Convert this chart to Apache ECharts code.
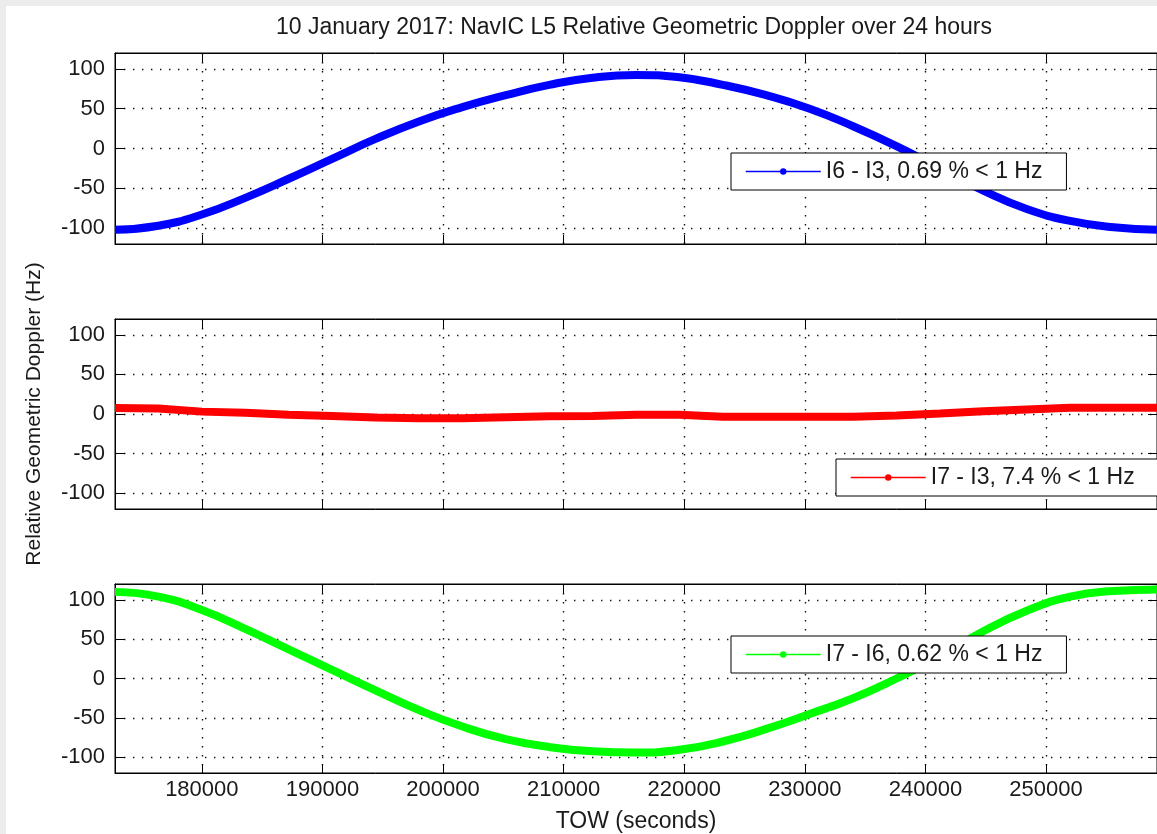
<!DOCTYPE html>
<html>
<head>
<meta charset="utf-8">
<title>NavIC L5 Relative Geometric Doppler</title>
<script src="https://cdn.jsdelivr.net/npm/echarts@6/dist/echarts.min.js"></script>
<style>
html, body { margin: 0; padding: 0; background: #ececec; overflow: hidden; }
#chart { position: absolute; left: 6px; top: 6px; width: 1151px; height: 828px; background: #fff; }
</style>
</head>
<body>
<div id="chart"></div>
<script>
// TOW (seconds), one sample per hour over the 24 h
const TOW = [172800, 176400, 180000, 183600, 187200, 190800, 194400, 198000, 201600, 205200,
  208800, 212400, 216000, 219600, 223200, 226800, 230400, 234000, 237600, 241200,
  244800, 248400, 252000, 255600, 259200]

// relative geometric doppler (Hz)
const I6_I3 = [-102, -97, -83, -62, -38, -13, 12, 34, 52, 67,
  80, 89, 92.5, 89.5, 80, 67, 50, 28, 3, -25,
  -53, -76, -91, -99, -102]
const I7_I3 = [7.5, 7, 3, 1.5, -1, -2.5, -4.5, -5.5, -5.5, -4,
  -2.7, -2.5, -1, -0.8, -3.5, -3.6, -3.6, -3.5, -2, 0.5,
  3.5, 5.7, 7.8, 7.8, 7.8]
const I7_I6 = [110, 104, 87, 63, 37, 11, -15, -40, -61, -77,
  -87, -92.5, -94, -90.5, -80, -64, -45, -25, 0, 28,
  60, 86, 104, 111, 113]

const X_TICKS = [180000, 190000, 200000, 210000, 220000, 230000, 240000, 250000]
const Y_TICKS = [-100, -50, 0, 50, 100]
const NAMES = ['I6 - I3, 0.69 % < 1 Hz', 'I7 - I3, 7.4 % < 1 Hz', 'I7 - I6, 0.62 % < 1 Hz']
const COLORS = ['#0000ff', '#ff0000', '#00ff00']
const SERIES_DATA = [I6_I3, I7_I3, I7_I6]

const FONT = 'Liberation Sans'
const TXT = '#1a1a1a'

const gridBoxes = [
  { top: 47, height: 191 },
  { top: 313, height: 190 },
  { top: 578, height: 192 }
]
const legendPos = [
  { left: 725, top: 147 },
  { left: 830, top: 453 },
  { left: 725, top: 630 }
]

const dotted = { color: '#111', width: 1.4, type: [1.4, 7.6] }

let xAxes = []
let yAxes = []
gridBoxes.forEach((g, i) => {
  ['bottom', 'top'].forEach(pos => {
    xAxes.push({
      type: 'value',
      gridIndex: i,
      position: pos,
      min: 172800,
      max: 259200,
      name: (i === 2 && pos === 'bottom') ? 'TOW (seconds)' : '',
      nameLocation: 'middle',
      nameGap: 37,
      nameTextStyle: { fontFamily: FONT, fontSize: 23, color: TXT },
      axisLine: { show: true, onZero: false, lineStyle: { color: '#000', width: 1 } },
      axisTick: { show: true, inside: true, length: 9, customValues: X_TICKS, lineStyle: { color: '#000' } },
      axisLabel: {
        show: i === 2 && pos === 'bottom',
        customValues: X_TICKS,
        formatter: v => String(v),
        margin: 6,
        fontFamily: FONT, fontSize: 22, color: TXT
      },
      splitLine: { show: pos === 'bottom', lineStyle: dotted }
    })
  })
  ;['left', 'right'].forEach(pos => {
    yAxes.push({
      type: 'value',
      gridIndex: i,
      position: pos,
      min: -120,
      max: 120,
      name: (i === 1 && pos === 'left') ? 'Relative Geometric Doppler (Hz)' : '',
      nameLocation: 'middle',
      nameGap: 70,
      nameTextStyle: { fontFamily: FONT, fontSize: 21, color: TXT },
      axisLine: { show: true, onZero: false, lineStyle: { color: '#000', width: 1 } },
      axisTick: { show: true, inside: true, length: 9, customValues: Y_TICKS, lineStyle: { color: '#000' } },
      axisLabel: { show: pos === 'left', customValues: Y_TICKS, margin: 10, fontFamily: FONT, fontSize: 22, color: TXT },
      splitLine: { show: pos === 'left', lineStyle: dotted }
    })
  })
})

const chart = echarts.init(document.getElementById('chart'))
chart.setOption({
  animation: false,
  backgroundColor: '#fff',
  graphic: [{
    type: 'text',
    x: 628,
    y: 10,
    style: {
      text: '10 January 2017: NavIC L5 Relative Geometric Doppler over 24 hours',
      fontFamily: FONT, fontSize: 23, fill: TXT, textAlign: 'center'
    }
  }],
  grid: gridBoxes.map(g => ({ left: 109, width: 1045, top: g.top, height: g.height, show: true, borderColor: '#000', borderWidth: 1, backgroundColor: '#fff' })),
  xAxis: xAxes,
  yAxis: yAxes,
  legend: NAMES.map((name, i) => ({
    data: [name],
    left: legendPos[i].left,
    top: legendPos[i].top,
    selectedMode: false,
    backgroundColor: '#fff',
    borderColor: '#000',
    borderWidth: 1,
    borderRadius: 0,
    padding: [7, 24, 7, 14],
    itemWidth: 75,
    itemHeight: 8,
    lineStyle: { color: COLORS[i], width: 1.5 },
    itemStyle: { color: COLORS[i] },
    textStyle: { fontFamily: FONT, fontSize: 23, color: TXT }
  })),
  series: NAMES.map((name, i) => ({
    type: 'line',
    name: name,
    xAxisIndex: 2 * i,
    yAxisIndex: 2 * i,
    data: TOW.map((t, k) => [t, SERIES_DATA[i][k]]),
    smooth: i === 1 ? false : 0.5,
    showSymbol: false,
    symbol: 'circle',
    symbolSize: 6,
    clip: false,
    lineStyle: { width: 8, color: COLORS[i] },
    itemStyle: { color: COLORS[i] }
  }))
})
</script>
</body>
</html>
